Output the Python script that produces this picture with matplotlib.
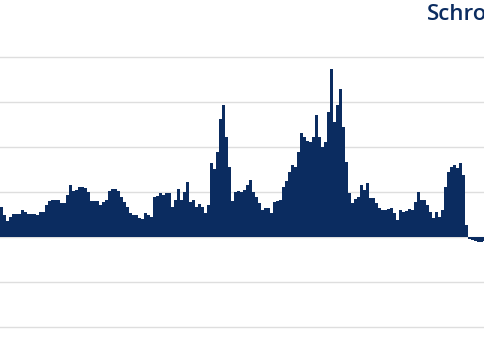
import matplotlib
matplotlib.use("Agg")
import matplotlib.pyplot as plt
import numpy as np

values = [
    0.67, 0.49, 0.36, 0.44, 0.51, 0.51, 0.51, 0.60, 0.56, 0.51,
    0.51, 0.51, 0.49, 0.56, 0.56, 0.71, 0.80, 0.82, 0.82, 0.82,
    0.76, 0.76, 0.93, 1.16, 1.02, 1.04, 1.11, 1.11, 1.09, 1.00,
    0.80, 0.80, 0.80, 0.71, 0.78, 0.82, 1.02, 1.07, 1.07, 1.02,
    0.89, 0.78, 0.67, 0.53, 0.49, 0.49, 0.42, 0.40, 0.53, 0.49,
    0.44, 0.89, 0.91, 0.98, 0.93, 0.98, 0.98, 0.67, 0.82, 1.07,
    0.82, 1.00, 1.22, 0.78, 0.82, 0.67, 0.73, 0.67, 0.53, 0.71,
    1.64, 1.51, 1.89, 2.62, 2.93, 2.22, 1.56, 0.80, 1.00, 1.02,
    1.00, 1.04, 1.16, 1.27, 1.00, 0.89, 0.76, 0.60, 0.64, 0.64,
    0.53, 0.78, 0.80, 0.82, 1.11, 1.24, 1.44, 1.60, 1.56, 1.89,
    2.31, 2.22, 2.13, 2.11, 2.22, 2.71, 2.22, 2.00, 2.11, 2.78,
    3.73, 2.56, 2.93, 3.29, 2.44, 1.67, 0.98, 0.76, 0.84, 0.89,
    1.16, 1.04, 1.20, 0.87, 0.87, 0.76, 0.64, 0.60, 0.60, 0.62,
    0.64, 0.53, 0.38, 0.60, 0.56, 0.58, 0.62, 0.60, 0.78, 1.00,
    0.82, 0.82, 0.71, 0.56, 0.42, 0.56, 0.44, 0.60, 1.11, 1.44,
    1.56, 1.60, 1.53, 1.64, 1.38, 0.27, -0.04, -0.07, -0.09, -0.11,
    -0.11, -0.09,
]
grid_levels = [-2, -1, 0, 1, 2, 3, 4]
logo_text = "Schroders"

navy = "#0b2c60"

fig = plt.figure(figsize=(4.85, 3.42), dpi=100)
ax = fig.add_axes([0, 0, 1, 1])
x = np.arange(len(values))
bars = ax.bar(x, values, width=0.8, color=navy, edgecolor="none", zorder=2)
for b in bars:
    b.set_snap(True)
for g in grid_levels:
    ax.axhline(g, color="#dedede", linewidth=1.0, zorder=1)
ax.set_xlim(-0.5, len(values) - 0.83)
ax.set_ylim(-2.33, 5.27)
ax.axis("off")

fig.text(427 / 485, 1 - 15 / 342, logo_text, color=navy, fontsize=16,
         fontfamily="Open Sans", fontweight="semibold",
         ha="left", va="center")

fig.savefig("out.png", dpi=100)
